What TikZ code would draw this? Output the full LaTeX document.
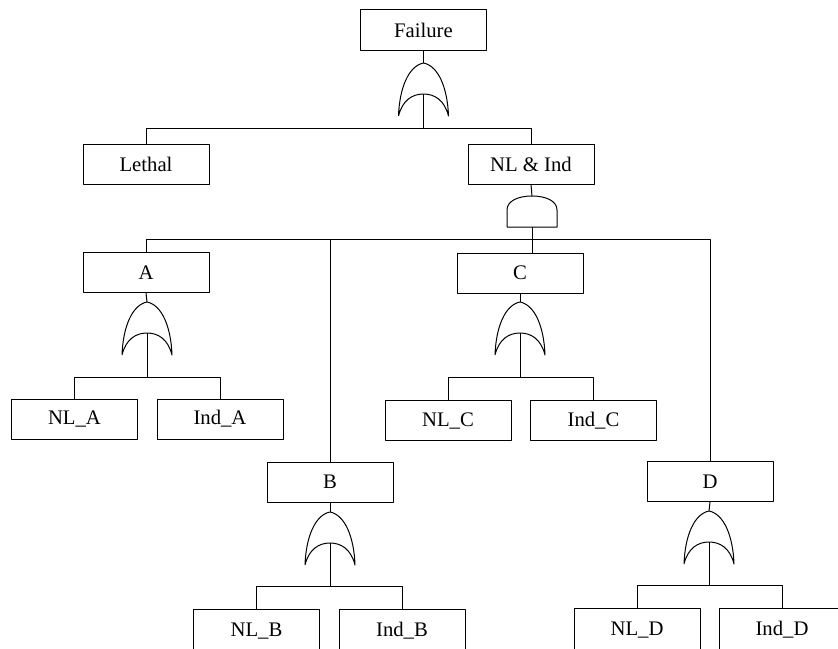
\documentclass[tikz,border=0pt]{standalone}
\usepackage{fontspec}
\setmainfont{Liberation Serif}
\begin{document}
\begin{tikzpicture}[x=1pt,y=-1pt,line width=1pt,line join=round,
  evt/.style={draw,rectangle,minimum width=126pt,minimum height=40pt,inner sep=0pt,
    font=\fontsize{20.7}{24}\selectfont},
  cutevt/.style={evt,minimum height=44pt},
  orgate/.pic={
    \coordinate (-in) at (0,0);
    \coordinate (-out) at (0,31);
    \draw (-25,53) .. controls (-24,25) and (-15,3) .. (0,0)
      .. controls (15,3) and (24,25) .. (25,53)
      .. controls (21,37) and (11,31) .. (0,31)
      .. controls (-11,31) and (-21,37) .. (-25,53);
  },
  andgate/.pic={
    \coordinate (-in) at (0,0);
    \coordinate (-out) at (0,31);
    \draw (-25,31) -- (-25,14) .. controls (-25,5) and (-14,0) .. (0,0)
      .. controls (14,0) and (25,5) .. (25,14) -- (25,31) -- cycle;
  }]
\useasboundingbox (0,0) rectangle (838,648);
\clip (0,0) rectangle (838,648);
% events
\node[evt,minimum height=41pt] (failure) at (423.5,30) {Failure};
\node[evt] (lethal) at (146,164) {Lethal};
\node[evt] (nlind) at (531,164) {NL \& Ind};
\node[evt] (a) at (146,272.5) {A};
\node[evt] (c) at (520,273) {C};
\node[evt] (b) at (330,482) {B};
\node[evt] (d) at (710,481.5) {D};
\node[evt] (nla) at (74.5,419) {NL\_A};
\node[evt] (inda) at (220,419) {Ind\_A};
\node[evt] (nlc) at (448,420.5) {NL\_C};
\node[evt] (indc) at (593.5,420.5) {Ind\_C};
\node[cutevt] (nlb) at (256.5,631) {\raisebox{2pt}{NL\_B}};
\node[cutevt] (indb) at (402,631) {\raisebox{2pt}{Ind\_B}};
\node[cutevt] (nld) at (637,630) {\raisebox{2pt}{NL\_D}};
\node[cutevt] (indd) at (782,630) {\raisebox{2pt}{Ind\_D}};
% gates
\pic (g1) at (423.5,63) {orgate};
\pic (g2) at (532,196) {andgate};
\pic (ga) at (147,302) {orgate};
\pic (gc) at (520,302) {orgate};
\pic (gb) at (330,512) {orgate};
\pic (gd) at (709,511) {orgate};
% junctions
\coordinate (j1) at (423.5,128);
\coordinate (j2) at (532,239);
\coordinate (ja) at (147,377);
\coordinate (jc) at (520,377);
\coordinate (jb) at (330,586);
\coordinate (jd) at (709,585);
% connectors
\draw (failure.south) -- (g1-in);
\draw (g1-out) -- (j1);
\draw (j1) -| (lethal.north);
\draw (j1) -| (nlind.north);
\draw (nlind.south) -- (g2-in);
\draw (g2-out) -- (j2);
\draw (j2) -| (a.north);
\draw (j2) -| (b.north);
\draw (j2) -- (j2 |- c.north);
\draw (j2) -| (d.north);
\draw (a.south) -- (ga-in);
\draw (ga-out) -- (ja);
\draw (ja) -| (nla.north);
\draw (ja) -| (inda.north);
\draw (c.south) -- (gc-in);
\draw (gc-out) -- (jc);
\draw (jc) -| (nlc.north);
\draw (jc) -| (indc.north);
\draw (b.south) -- (gb-in);
\draw (gb-out) -- (jb);
\draw (jb) -| (nlb.north);
\draw (jb) -| (indb.north);
\draw (d.south) -- (gd-in);
\draw (gd-out) -- (jd);
\draw (jd) -| (nld.north);
\draw (jd) -| (indd.north);
\end{tikzpicture}
\end{document}
